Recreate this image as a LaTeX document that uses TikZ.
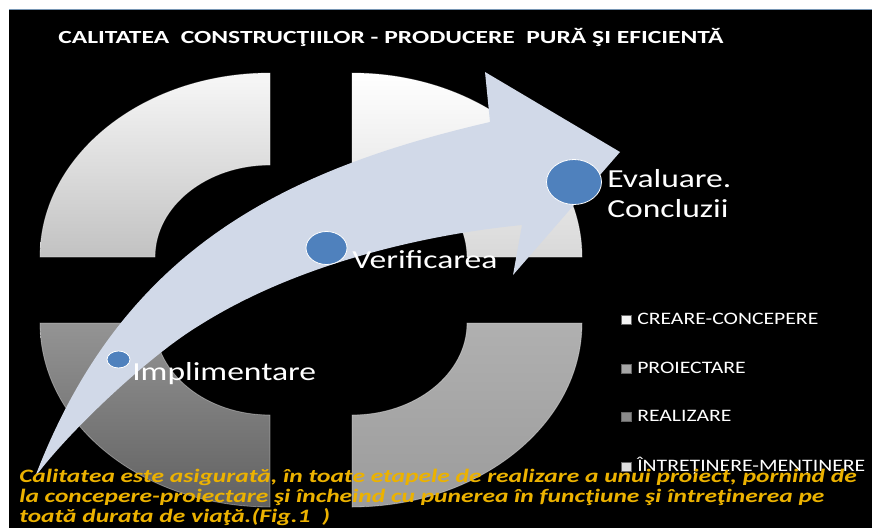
\documentclass[tikz,border=0pt]{standalone}
\usepackage{fontspec}
\setmainfont{Carlito}
\usetikzlibrary{shapes.geometric}
\definecolor{arrowfill}{RGB}{209,217,232}
\definecolor{dotblue}{RGB}{79,129,189}
\definecolor{capgold}{RGB}{236,178,0}
\definecolor{topline}{RGB}{120,150,180}
\tikzset{
  quad/.style={draw=white, draw opacity=0.35, line width=0.8pt},
  dot/.style={ellipse, fill=dotblue, draw=white, line width=0.8pt, inner sep=0pt},
  lbl/.style={text=white, font=\fontsize{26}{30}\selectfont, inner sep=0pt, xscale=1.29},
  leg/.style={text=white, font=\fontsize{17.5}{20}\selectfont, inner sep=0pt, xscale=1.24},
  sq/.style={minimum width=10pt, minimum height=9pt, inner sep=0pt, draw=black!60, line width=0.3pt},
  captext/.style={text=capgold, font=\fontsize{19}{22}\selectfont\bfseries\itshape, inner sep=0pt, xscale=1.34},
  ttl/.style={text=white, font=\fontsize{18.5}{22}\selectfont\bfseries, inner sep=0pt, xscale=1.38}
}
\begin{document}
\begin{tikzpicture}[x=1pt,y=-1pt]
\useasboundingbox (0,0) rectangle (872,528);
\fill[white] (0,0) rectangle (872,528);
\fill[black] (9,10) rectangle (872,528);
\draw[topline, line width=1.2pt] (9,9.6) -- (872,9.6);
% quadrants
\shade[quad, top color=gray!6, bottom color=gray!48]
  (40,257) arc[start angle=180,end angle=270,x radius=230,y radius=184]
  -- (270,165) arc[start angle=270,end angle=180,x radius=115,y radius=92] -- cycle;
\shade[quad, top color=white, bottom color=gray!30]
  (352,73) arc[start angle=270,end angle=360,x radius=230,y radius=184]
  -- (467,257) arc[start angle=0,end angle=-90,x radius=115,y radius=92] -- cycle;
\shade[quad, top color=gray!62, bottom color=gray!78]
  (582,323) arc[start angle=0,end angle=90,x radius=230,y radius=184]
  -- (352,415) arc[start angle=90,end angle=0,x radius=115,y radius=92] -- cycle;
\shade[quad, top color=black!42, bottom color=black!62]
  (270,507) arc[start angle=90,end angle=180,x radius=230,y radius=184]
  -- (155,323) arc[start angle=180,end angle=90,x radius=115,y radius=92] -- cycle;
% arrow
\fill[arrowfill] (35,477) .. controls (120,255) and (274,172) .. (490,122)
  -- (485,72) -- (620,152) -- (513,275) -- (522,225)
  .. controls (430,234) and (300,262) .. (200,325)
  .. controls (150,355) and (70,430) .. (35,477) -- cycle;
% dots
\node[dot, minimum width=23pt, minimum height=17pt] (d1) at (118.5,359.5) {};
\node[dot, minimum width=41pt, minimum height=33pt] (d2) at (326.5,248) {};
\node[dot, minimum width=55pt, minimum height=45pt] (d3) at (574,182) {};
% labels
\node[lbl, anchor=base west] (impl) at (132,380) {Implimentare};
\node[lbl, anchor=base west] (verif) at (352,268) {Verificarea};
\node[lbl, anchor=base west] (eval) at (607,187) {Evaluare.};
\node[lbl, anchor=base west] (concl) at (607,217) {Concluzii};
% title
\node[ttl, anchor=base west] (title) at (58,43.5) {CALITATEA\ \ CONSTRUCŢIILOR - PRODUCERE\ \ PURĂ ŞI EFICIENTĂ};
% legend
\node[sq, fill=gray!8] (s1) at (626.5,319.5) {};
\node[sq, fill=gray!70] (s2) at (626.5,368.5) {};
\node[sq, fill=gray!92] (s3) at (626.5,417) {};
\node[sq, fill=gray!25] (s4) at (626.5,466.5) {};
\node[leg, anchor=base west] (l1) at (637,324) {CREARE-CONCEPERE};
\node[leg, anchor=base west] (l2) at (637,373) {PROIECTARE};
\node[leg, anchor=base west] (l3) at (637,421.5) {REALIZARE};
\node[leg, anchor=base west] (l4) at (637,471) {ÎNTREȚINERE-MENȚINERE};
% caption
\node[captext, anchor=base west] (c1) at (19,482) {Calitatea este asigurată, în toate etapele de realizare a unui proiect, pornind de};
\node[captext, anchor=base west] (c2) at (19,502) {la concepere-proiectare şi încheind cu punerea în funcţiune şi întreţinerea pe};
\node[captext, anchor=base west] (c3) at (19,522) {toată durata de viaţă.(Fig.1\ \ )};
\end{tikzpicture}
\end{document}
